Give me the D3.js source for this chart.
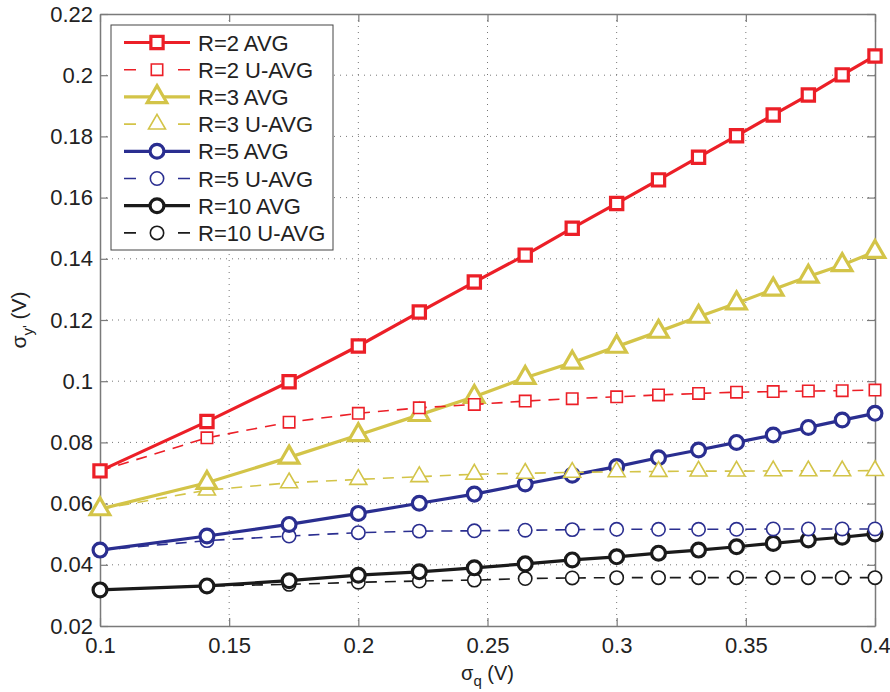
<!DOCTYPE html>
<html>
<head>
<meta charset="utf-8">
<script src="https://cdn.jsdelivr.net/npm/d3@7"></script>
<style>
  body { margin: 0; background: #fff; }
  svg text { font-family: "Liberation Sans", Arial, sans-serif; fill: #222; }
</style>
</head>
<body>
<div id="chart"></div>
<script>
// sigma_q values on the x axis
var sigmaQ = [0.1, 0.1414, 0.1732, 0.2, 0.2236, 0.2449, 0.2646, 0.2828, 0.3, 0.3162, 0.3317, 0.3464, 0.3606, 0.3742, 0.3873, 0.4];

var r2Avg  = [0.0707, 0.0868, 0.0998, 0.1115, 0.1226, 0.1324, 0.1412, 0.1500, 0.1581, 0.1658, 0.1732, 0.1802, 0.1870, 0.1935, 0.2001, 0.2063];
var r2UAvg = [0.0707, 0.0815, 0.0866, 0.0895, 0.0913, 0.0924, 0.0935, 0.0943, 0.0949, 0.0955, 0.0960, 0.0964, 0.0966, 0.0968, 0.0969, 0.0971];
var r3Avg  = [0.0582, 0.0668, 0.0751, 0.0824, 0.0890, 0.0949, 0.1011, 0.1061, 0.1113, 0.1162, 0.1211, 0.1255, 0.1300, 0.1342, 0.1380, 0.1423];
var r3UAvg = [0.0582, 0.0644, 0.0668, 0.0679, 0.0688, 0.0696, 0.0699, 0.0702, 0.0704, 0.0705, 0.0706, 0.0706, 0.0707, 0.0707, 0.0707, 0.0708];
var r5Avg  = [0.0448, 0.0494, 0.0532, 0.0568, 0.0601, 0.0631, 0.0664, 0.0693, 0.0721, 0.0750, 0.0775, 0.0800, 0.0824, 0.0849, 0.0873, 0.0895];
var r5UAvg = [0.0448, 0.0479, 0.0494, 0.0505, 0.0510, 0.0511, 0.0513, 0.0515, 0.0516, 0.0516, 0.0516, 0.0516, 0.0517, 0.0517, 0.0517, 0.0517];
var r10Avg  = [0.0318, 0.0331, 0.0348, 0.0366, 0.0377, 0.0390, 0.0403, 0.0416, 0.0426, 0.0438, 0.0448, 0.0459, 0.0470, 0.0481, 0.0490, 0.0501];
var r10UAvg = [0.0318, 0.0331, 0.0336, 0.0343, 0.0347, 0.0350, 0.0355, 0.0357, 0.0358, 0.0358, 0.0358, 0.0358, 0.0358, 0.0358, 0.0358, 0.0358];

var xTicks = [0.1, 0.15, 0.2, 0.25, 0.3, 0.35, 0.4];
var yTicks = [0.02, 0.04, 0.06, 0.08, 0.1, 0.12, 0.14, 0.16, 0.18, 0.2, 0.22];

var seriesNames = ["R=2 AVG", "R=2 U-AVG", "R=3 AVG", "R=3 U-AVG", "R=5 AVG", "R=5 U-AVG", "R=10 AVG", "R=10 U-AVG"];
var seriesValues = [r2Avg, r2UAvg, r3Avg, r3UAvg, r5Avg, r5UAvg, r10Avg, r10UAvg];

var red = "#ec1f27", yellow = "#d3c448", blue = "#2a2e90", black = "#1a1a1a";
var styles = [
  {color: red, dashed: false, shape: "square"},
  {color: red, dashed: true, shape: "square"},
  {color: yellow, dashed: false, shape: "triangle"},
  {color: yellow, dashed: true, shape: "triangle"},
  {color: blue, dashed: false, shape: "circle"},
  {color: blue, dashed: true, shape: "circle"},
  {color: black, dashed: false, shape: "circle"},
  {color: black, dashed: true, shape: "circle"}
];

var svgWidth = 890, svgHeight = 692;
var margin = {top: 14, right: 15, bottom: 66, left: 100};
var width = svgWidth - margin.left - margin.right;
var height = svgHeight - margin.top - margin.bottom;

var x = d3.scaleLinear().domain([0.1, 0.4]).range([0, width]);
var y = d3.scaleLinear().domain([0.02, 0.22]).range([height, 0]);

var svg = d3.select("#chart").append("svg")
  .attr("width", svgWidth)
  .attr("height", svgHeight)
  .append("g")
  .attr("transform", "translate(" + margin.left + "," + margin.top + ")");

// dotted grid
svg.append("g").selectAll("line").data(xTicks.slice(1, -1)).enter().append("line")
  .attr("x1", function (d) { return x(d); }).attr("x2", function (d) { return x(d); })
  .attr("y1", 0).attr("y2", height)
  .attr("stroke", "#777").attr("stroke-width", 1).attr("stroke-dasharray", "1,5");
svg.append("g").selectAll("line").data(yTicks.slice(1, -1)).enter().append("line")
  .attr("y1", function (d) { return y(d); }).attr("y2", function (d) { return y(d); })
  .attr("x1", 0).attr("x2", width)
  .attr("stroke", "#777").attr("stroke-width", 1).attr("stroke-dasharray", "1,5");

// axes (ticks pointing inwards, on all four sides)
function styleAxis(g) {
  g.select(".domain").attr("stroke", "#7a7a7a").attr("stroke-width", 1.5);
  g.selectAll(".tick line").attr("stroke", "#7a7a7a").attr("stroke-width", 1.2);
  g.selectAll(".tick text").attr("font-size", 22).attr("fill", "#222");
}
svg.append("g").attr("transform", "translate(0," + height + ")")
  .call(d3.axisBottom(x).tickValues(xTicks).tickSizeInner(-8).tickSizeOuter(0).tickPadding(11).tickFormat(d3.format("")))
  .call(styleAxis);
svg.append("g")
  .call(d3.axisTop(x).tickValues(xTicks).tickSizeInner(-8).tickSizeOuter(0).tickFormat(""))
  .call(styleAxis);
svg.append("g")
  .call(d3.axisLeft(y).tickValues(yTicks).tickSizeInner(-8).tickSizeOuter(0).tickPadding(7).tickFormat(d3.format("")))
  .call(styleAxis);
svg.append("g").attr("transform", "translate(" + width + ",0)")
  .call(d3.axisRight(y).tickValues(yTicks).tickSizeInner(-8).tickSizeOuter(0).tickFormat(""))
  .call(styleAxis);
svg.selectAll(".tick text").attr("font-family", "Liberation Sans, Arial, sans-serif");

function markerPath(shape, solid) {
  if (shape === "square") return d3.symbol().type(d3.symbolSquare).size(solid ? 150 : 130)();
  if (shape === "triangle") return d3.symbol().type(d3.symbolTriangle).size(solid ? 165 : 125)();
  return d3.symbol().type(d3.symbolCircle).size(solid ? 150 : 140)();
}

var line = d3.line()
  .x(function (d, i) { return x(sigmaQ[i]); })
  .y(function (d) { return y(d); });

// draw in reverse so the red series ends up on top
d3.range(seriesValues.length).reverse().forEach(function (k) {
  var st = styles[k];
  var g = svg.append("g");
  g.append("path")
    .datum(seriesValues[k])
    .attr("d", line)
    .attr("fill", "none")
    .attr("stroke", st.color)
    .attr("stroke-width", st.dashed ? 1.6 : 3.2)
    .attr("stroke-dasharray", st.dashed ? "11,8" : null);
  g.selectAll(".mk").data(seriesValues[k]).enter().append("path")
    .attr("transform", function (d, i) { return "translate(" + x(sigmaQ[i]) + "," + y(d) + ")"; })
    .attr("d", markerPath(st.shape, !st.dashed))
    .attr("fill", "#fff")
    .attr("stroke", st.color)
    .attr("stroke-width", st.dashed ? 1.6 : 3.2);
});

// legend
var legend = svg.append("g").attr("transform", "translate(11,11)");
legend.append("rect")
  .attr("width", 222).attr("height", 225)
  .attr("fill", "#fff").attr("stroke", "#444").attr("stroke-width", 1);
seriesNames.forEach(function (name, k) {
  var st = styles[k];
  var ly = 17.5 + k * 27.2;
  var row = legend.append("g").attr("transform", "translate(0," + ly + ")");
  row.append("line")
    .attr("x1", 13).attr("x2", 79).attr("y1", 0).attr("y2", 0)
    .attr("stroke", st.color)
    .attr("stroke-width", st.dashed ? 1.6 : 3.2)
    .attr("stroke-dasharray", st.dashed ? "12,42" : null);
  row.append("path")
    .attr("transform", "translate(46,0)")
    .attr("d", markerPath(st.shape, !st.dashed))
    .attr("fill", "#fff")
    .attr("stroke", st.color)
    .attr("stroke-width", st.dashed ? 1.6 : 3.2);
  row.append("text")
    .attr("x", 87).attr("y", 8)
    .attr("font-size", 22)
    .text(name);
});

// axis labels
var xl = svg.append("text")
  .attr("x", x(0.25)).attr("y", height + 54)
  .attr("text-anchor", "middle")
  .attr("font-size", 20);
xl.append("tspan").text("σ");
xl.append("tspan").attr("dy", 6).attr("font-size", 15).text("q");
xl.append("tspan").attr("dy", -6).text(" (V)");

var yl = svg.append("text")
  .attr("transform", "translate(" + (-74) + "," + (height / 2) + ") rotate(-90)")
  .attr("text-anchor", "middle")
  .attr("font-size", 21);
yl.append("tspan").text("σ");
yl.append("tspan").attr("dy", 7).attr("font-size", 15).text("y'");
yl.append("tspan").attr("dy", -7).text(" (V)");
</script>
</body>
</html>
